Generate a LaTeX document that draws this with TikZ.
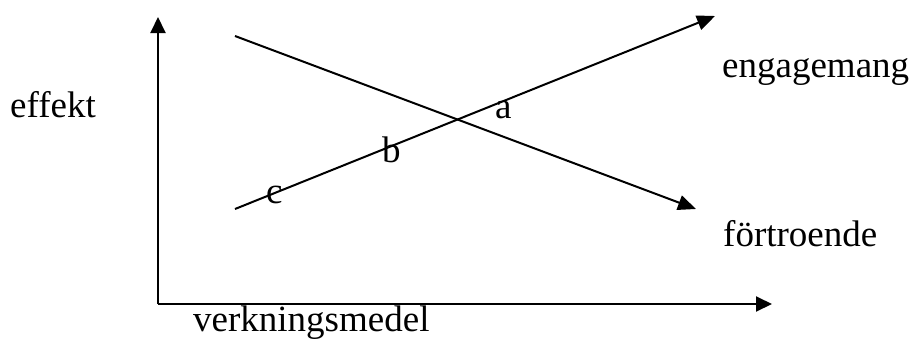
\documentclass[tikz,border=0pt]{standalone}
\usepackage{fontspec}
\setmainfont{Liberation Serif}
\usepackage{tikz}
\usetikzlibrary{arrows.meta, positioning}
\tikzset{
    axis/.style = {line width=2pt, -{Triangle[length=16pt, width=15pt]}},
    trend/.style = {line width=2pt, -{Triangle[length=18pt, width=15pt]}},
    axislabel/.style = {anchor=base west, inner sep=0pt, font=\fontsize{37}{44}\selectfont},
    letter/.style = {anchor=base west, inner sep=0pt, font=\fontsize{37}{44}\selectfont}
}

\begin{document}
\begin{tikzpicture}[x=1pt, y=-1pt]
\useasboundingbox (0,0) rectangle (914,338);
\coordinate (O) at (158,304);
\coordinate (Ytop) at (158,17);
\coordinate (Xend) at (772,304);
\coordinate (Fstart) at (235,36);
\coordinate (Fend) at (696,209);
\coordinate (Estart) at (235,209);
\coordinate (Eend) at (715,16);

\node (effekt) [axislabel] at (10,117) {effekt};
\node (verk) [axislabel] at (193,331) {verkningsmedel};
\node (eng) [axislabel] at (722,77) {engagemang};
\node (fort) [axislabel] at (723,246) {förtroende};
\node (a) [letter] at (495,118) {a};
\node (b) [letter] at (382,162) {b};
\node (c) [letter] at (266,203) {c};

\draw [axis] (O) -- (Ytop);
\draw [axis] (O) -- (Xend);
\draw [trend] (Fstart) -- (Fend);
\draw [trend] (Estart) -- (Eend);
\end{tikzpicture}
\end{document}
